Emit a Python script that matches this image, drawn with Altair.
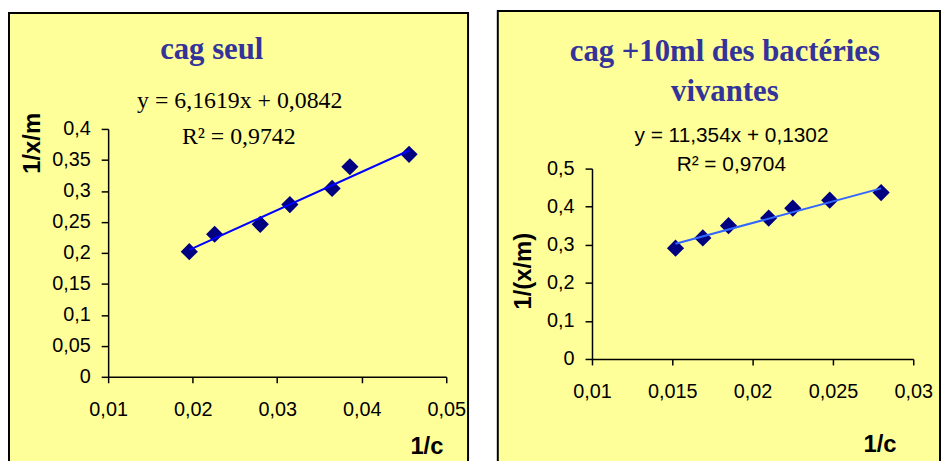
import altair as alt
import pandas as pd

# ---- data ----
x_left = [0.0196, 0.0226, 0.0280, 0.0315, 0.0365, 0.0386, 0.0456]
y_left = [0.202, 0.230, 0.246, 0.278, 0.304, 0.339, 0.359]
slope_left, icpt_left = 6.1619, 0.0842

x_right = [0.0152, 0.0169, 0.0185, 0.0210, 0.0225, 0.0248, 0.0280]
y_right = [0.291, 0.318, 0.350, 0.370, 0.396, 0.417, 0.437]
slope_right, icpt_right = 11.354, 0.1302

title_left = "cag seul"
title_right = ["cag +10ml des bactéries", "vivantes"]
eq_left = ["y = 6,1619x + 0,0842", "R² = 0,9742"]
eq_right = ["y = 11,354x + 0,1302", "R² = 0,9704"]

xticks_left = [0.01, 0.02, 0.03, 0.04, 0.05]
yticks_left = [0, 0.05, 0.1, 0.15, 0.2, 0.25, 0.3, 0.35, 0.4]
xticks_right = [0.01, 0.015, 0.02, 0.025, 0.03]
yticks_right = [0, 0.1, 0.2, 0.3, 0.4, 0.5]

BG = "#FFFF99"
NAVY = "#000080"
TITLE_C = "#333399"
SERIF = "Liberation Serif"
SANS = "Liberation Sans"
LBL = "replace(format(datum.value, '~g'), '.', ',')"


def panel(xs, ys, slope, icpt, xdom, ydom, xt, yt, w, h, yrange, ytitle,
          ytx, yty, xtx, xty, box, line_color, titles, eqs, eq_font, eq_size):
    pts = pd.DataFrame({"x": xs, "y": ys})
    xmin, xmax = min(xs), max(xs)
    trend = pd.DataFrame({"x": [xmin, xmax],
                          "y": [slope * xmin + icpt, slope * xmax + icpt]})
    xscale = alt.Scale(domain=xdom, nice=False, zero=False)
    if yrange is not None:
        yscale = alt.Scale(domain=ydom, nice=False, zero=False, range=yrange)
    else:
        yscale = alt.Scale(domain=ydom, nice=False, zero=False)
    xaxis = alt.Axis(values=xt, tickCount=len(xt), labelExpr=LBL, grid=False,
                     domainColor="black", domainWidth=1.5, tickColor="black",
                     tickWidth=1.5, tickSize=6,
                     labelFont=SANS, labelFontSize=20, labelColor="black",
                     labelPadding=17, labelFlush=False, labelOverlap=False,
                     title="1/c", titleFont=SANS, titleFontSize=24,
                     titleFontWeight="bold", titleColor="black",
                     titleX=xtx, titleY=xty, titleAlign="center",
                     titleBaseline="alphabetic", zindex=1)
    yaxis = alt.Axis(values=yt, tickCount=len(yt), labelExpr=LBL, grid=False,
                     domainColor="black", domainWidth=1.5, tickColor="black",
                     tickWidth=1.5, tickSize=7,
                     labelFont=SANS, labelFontSize=20, labelColor="black",
                     labelPadding=11, labelFlush=False, labelOverlap=False,
                     title=ytitle, titleFont=SANS, titleFontSize=24,
                     titleFontWeight="bold", titleColor="black", titleAngle=270,
                     titleX=ytx, titleY=yty, titleAlign="center",
                     titleBaseline="middle", zindex=1)

    bx1, bx2, by1, by2 = box
    bg = alt.Chart(pd.DataFrame({"k": [0]})).mark_rect(
        fill=BG, stroke="black", strokeWidth=2
    ).encode(x=alt.value(bx1), x2=alt.value(bx2), y=alt.value(by1), y2=alt.value(by2))

    points = alt.Chart(pts).mark_point(
        shape="diamond", filled=True, color=NAVY, size=300, opacity=1
    ).encode(x=alt.X("x:Q", scale=xscale, axis=xaxis),
             y=alt.Y("y:Q", scale=yscale, axis=yaxis))
    line = alt.Chart(trend).mark_line(color=line_color, strokeWidth=2).encode(
        x=alt.X("x:Q", scale=xscale, axis=xaxis),
        y=alt.Y("y:Q", scale=yscale, axis=yaxis))

    layers = [bg, points, line]
    for (txt, tx, ty) in titles:
        layers.append(alt.Chart(pd.DataFrame({"t": [txt]})).mark_text(
            font=SERIF, fontSize=31, fontWeight="bold", color=TITLE_C,
            align="center", baseline="alphabetic"
        ).encode(x=alt.value(tx), y=alt.value(ty), text="t:N"))
    for (txt, tx, ty) in eqs:
        layers.append(alt.Chart(pd.DataFrame({"t": [txt]})).mark_text(
            font=eq_font, fontSize=eq_size, color="black",
            align="center", baseline="alphabetic"
        ).encode(x=alt.value(tx), y=alt.value(ty), text="t:N"))
    return alt.layer(*layers).properties(width=w, height=h)


left = panel(x_left, y_left, slope_left, icpt_left, [0.01, 0.05], [0, 0.4],
             xticks_left, yticks_left, 341, 250, None, "1/x/m",
             -76, 14, 321, 77, (-100, 363, -117, 340), "#0000FF",
             [(title_left, 104.5, -71)],
             [(eq_left[0], 132.7, -21), (eq_left[1], 131.7, 14.7)],
             SERIF, 24)

right = panel(x_right, y_right, slope_right, icpt_right, [0.01, 0.03], [0, 0.5],
              xticks_right, yticks_right, 324, 232, [232, 40], "1/(x/m)",
              -69.5, 143, 290, 93, (-95, 351, -119, 340), "#3366FF",
              [(title_right[0], 134, -69), (title_right[1], 134, -28)],
              [(eq_right[0], 140.7, 13), (eq_right[1], 140.5, 42)],
              SANS, 21)

chart = alt.hconcat(left, right, spacing=28).properties(
    padding=0, background="white"
).configure_view(strokeWidth=0)

chart.save("out.html", embed_options={"renderer": "svg", "actions": False})
